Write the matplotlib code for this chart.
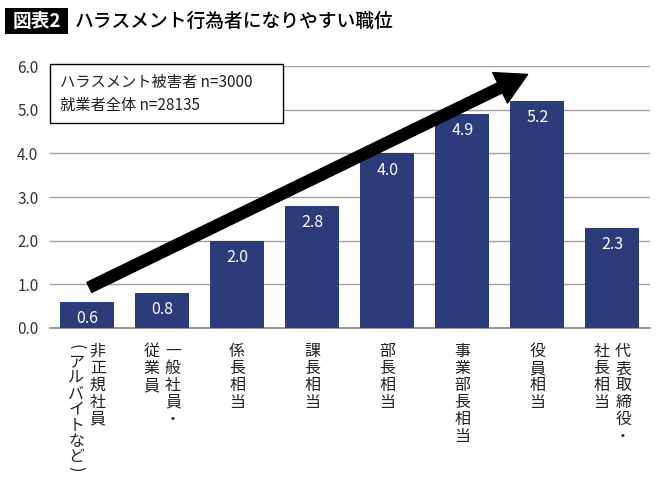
import matplotlib
matplotlib.use("Agg")
import matplotlib.pyplot as plt
import matplotlib.patches as mpatches

plt.rcParams['font.family'] = ['Noto Sans CJK JP', 'DejaVu Sans']

# data
values = [0.6, 0.8, 2.0, 2.8, 4.0, 4.9, 5.2, 2.3]
# each label: list of columns, right column first (vertical writing)
label_cols = [
    ["非正規社員", "(アルバイトなど)"],
    ["一般社員・", "従業員"],
    ["係長相当"],
    ["課長相当"],
    ["部長相当"],
    ["事業部長相当"],
    ["役員相当"],
    ["代表取締役・", "社長相当"],
]
yticks = [0.0, 1.0, 2.0, 3.0, 4.0, 5.0, 6.0]
note_lines = ["ハラスメント被害者 n=3000", "就業者全体 n=28135"]
title_tag = "図表2"
title = "ハラスメント行為者になりやすい職位"
arrow_from = (0.03, 0.93)
arrow_to = (5.87, 5.81)

bar_color = "#2c3b79"

fig = plt.figure(figsize=(6.7, 4.83), dpi=100)
ax = fig.add_axes([0.074, 0.321, 0.896, 0.542])

x = list(range(len(values)))
bars = ax.bar(x, values, width=0.72, color=bar_color, zorder=3)
for xi, v in zip(x, values):
    ax.annotate(f"{v:.1f}", (xi, v), xytext=(0, -12), textcoords="offset points",
                ha="center", va="center", color="white", fontsize=11.5, zorder=4)

ax.set_xlim(-0.5, len(values) - 0.5)
ax.set_ylim(0, 6.0)
ax.set_yticks(yticks)
ax.set_yticklabels([f"{t:.1f}" for t in yticks], fontsize=11, color="#333333")
ax.tick_params(axis="y", length=0, pad=8)
ax.set_xticks([])
ax.grid(axis="y", color="#a0a0a0", linewidth=1.0, zorder=0)
ax.set_axisbelow(True)
for s in ax.spines.values():
    s.set_visible(False)
ax.axhline(0, color="#888888", linewidth=1.2, zorder=2, clip_on=False)

# vertical category labels, one character at a time
pitch = 12.2  # points
paren_step = 7.0
col_gap = 15.5
for xi, cols in zip(x, label_cols):
    n = len(cols)
    for ci, col in enumerate(cols):
        dx = (n - 1) / 2 * col_gap - ci * col_gap
        y = -17.0
        if col[0] == "(":
            y = -13.5
        for k, ch in enumerate(col):
            rot = 0
            step = pitch
            if ch in "()":
                rot = -90
                step = paren_step
            if ch == ")":
                y += 2.5
            ax.annotate(ch, (xi, 0), xycoords=("data", "axes fraction"),
                        xytext=(dx, y), textcoords="offset points",
                        ha="center", va="center", fontsize=11.5, color="#222222",
                        rotation=rot, annotation_clip=False)
            if ch == "(":
                y -= paren_step + 4.5
            else:
                y -= step if ch not in "アルバイトなど" else 11.3

# note box
box = mpatches.Rectangle((0.0, 0.782), 0.389, 0.226, transform=ax.transAxes,
                         facecolor="white", edgecolor="black", linewidth=1.0,
                         zorder=5, clip_on=False)
ax.add_patch(box)
ax.text(0.0175, 0.939, note_lines[0], transform=ax.transAxes, fontsize=11,
        va="center", ha="left", color="#222222", zorder=6)
ax.text(0.0175, 0.851, note_lines[1], transform=ax.transAxes, fontsize=11,
        va="center", ha="left", color="#222222", zorder=6)

# big trend arrow
arr = mpatches.FancyArrowPatch(arrow_from, arrow_to,
                               arrowstyle="simple,head_length=1.1,head_width=1.22,tail_width=0.4",
                               mutation_scale=20, color="black", shrinkA=0, shrinkB=0,
                               zorder=7, clip_on=False)
ax.add_patch(arr)

# title
fig.patches.append(mpatches.Rectangle((0.0075, 0.9296), 0.094, 0.0538,
                                      transform=fig.transFigure, facecolor="black",
                                      edgecolor="none"))
fig.text(0.0545, 0.9565, title_tag, color="white", fontsize=13.5, fontweight="bold",
         ha="center", va="center")
fig.text(0.112, 0.9565, title, color="black", fontsize=13.5, fontweight="medium",
         ha="left", va="center")

fig.savefig("out.png", dpi=100, facecolor="white")
